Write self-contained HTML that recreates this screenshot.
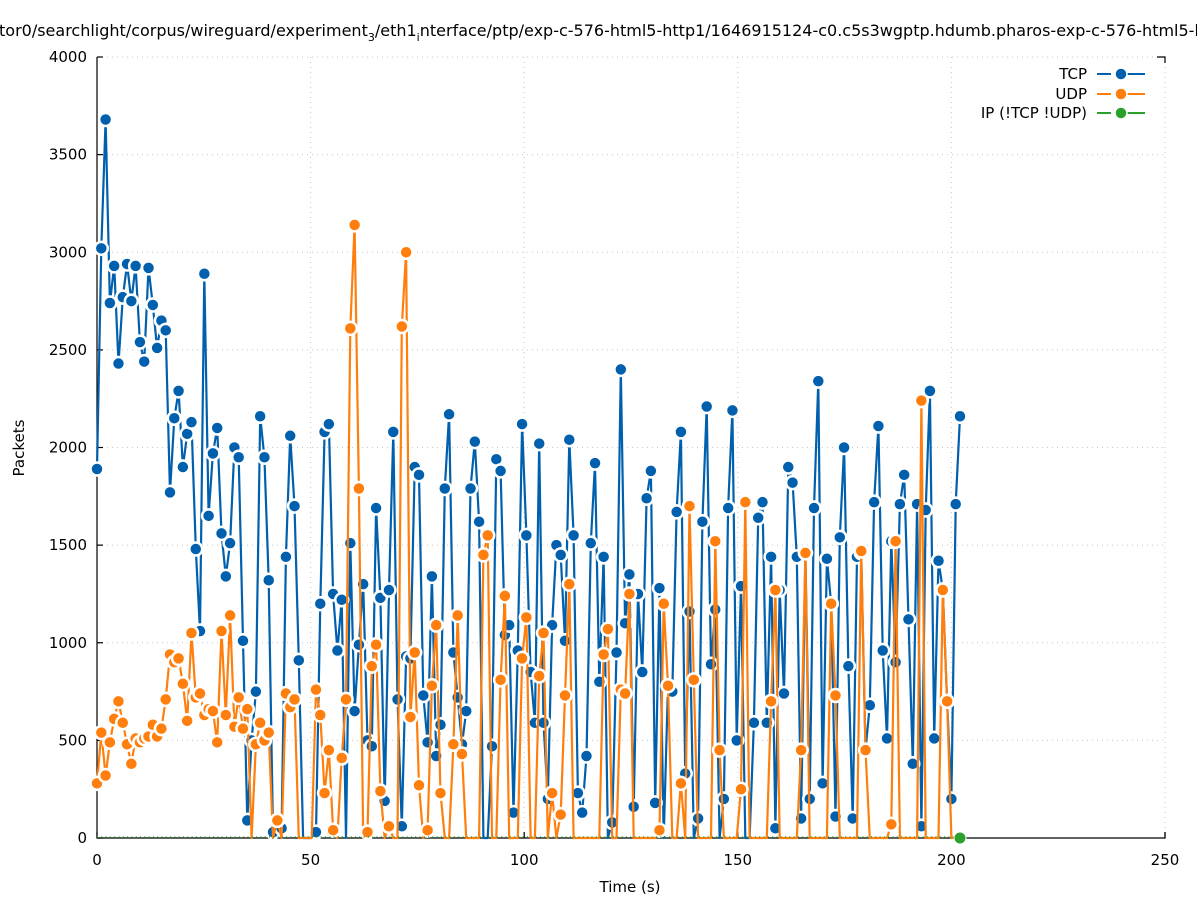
<!DOCTYPE html>
<html><head><meta charset="utf-8"><style>
body{margin:0;background:#fff;width:1197px;height:900px;overflow:hidden;font-family:"Liberation Sans","DejaVu Sans",sans-serif}
svg{display:block}
</style></head><body>
<svg id="s" width="1197" height="900" xmlns="http://www.w3.org/2000/svg" font-family="DejaVu Sans, Liberation Sans, sans-serif" font-size="15">
<rect width="1197" height="900" fill="#fff"/>
<g id="grid" stroke="#c8c8c8" stroke-dasharray="1,4" stroke-width="1"></g>
<text x="-1" y="36" text-anchor="start" font-size="16">tor0/searchlight/corpus/wireguard/experiment<tspan font-size="11" dy="5">3</tspan><tspan dy="-5">/eth1</tspan><tspan font-size="11" dy="5">i</tspan><tspan dy="-5">nterface/ptp/exp-c-576-html5-http1/1646915124-c0.c5s3wgptp.hdumb.pharos-exp-c-576-html5-http1</tspan></text>
<g id="axes" stroke="#000" stroke-width="1.2" fill="none"></g>
<g id="lbl" fill="#000"></g>
<text x="630" y="892" text-anchor="middle">Time (s)</text>
<text transform="translate(24,448) rotate(-90)" text-anchor="middle">Packets</text>
<g id="plot"></g>
<g id="leg"></g>
</svg>
<script>
var NS="http://www.w3.org/2000/svg";
function el(p,t,a,txt){var e=document.createElementNS(NS,t);for(var k in a)e.setAttribute(k,a[k]);if(txt!=null)e.textContent=txt;document.getElementById(p).appendChild(e);return e;}
var X0=97,X1=1165,Y0=838,Y1=57;
function xs(t){return X0+(X1-X0)*t/250}
function ys(v){return Y0-(Y0-Y1)*v/4000}
for(var v=0;v<=4000;v+=500){var y=ys(v);
 if(v>0)el("grid","line",{x1:X0,x2:X1,y1:y,y2:y});
 el("axes","line",{x1:X0,x2:X0+6,y1:y,y2:y});
 el("lbl","text",{x:87,y:y+5,"text-anchor":"end"},v);}
for(var t=0;t<=250;t+=50){var x=xs(t);
 if(t>0)el("grid","line",{x1:x,x2:x,y1:Y0,y2:Y1});
 el("axes","line",{x1:x,x2:x,y1:Y0,y2:Y0-6});
 el("lbl","text",{x:x,y:865,"text-anchor":"middle"},t);}
el("axes","path",{d:"M"+X0+" "+Y1+"V"+Y0+"H"+X1+"V"+(Y0-6)});
el("axes","path",{d:"M"+(X1-8)+" "+Y1+"H"+X1+"V"+(Y1+6)});
var tcp=[1890,3020,3680,2740,2930,2430,2770,2940,2750,2930,2540,2440,2920,2730,2510,2650,2600,1770,2150,2290,1900,2070,2130,1480,1060,2890,1650,1970,2100,1560,1340,1510,2000,1950,1010,90,500,750,2160,1950,1320,30,0,50,1440,2060,1700,910,0,0,0,30,1200,2080,2120,1250,960,1220,0,1510,650,990,1300,500,470,1690,1230,190,1270,2080,710,60,930,920,1900,1860,730,490,1340,420,580,1790,2170,950,720,480,650,1790,2030,1620,0,0,470,1940,1880,1040,1090,130,960,2120,1550,850,590,2020,590,200,1090,1500,1450,1010,2040,1550,230,130,420,1510,1920,800,1440,0,80,950,2400,1100,1350,160,1250,850,1740,1880,180,1280,0,780,750,1670,2080,330,1160,0,100,1620,2210,890,1170,0,200,1690,2190,500,1290,0,0,590,1640,1720,590,1440,50,1270,740,1900,1820,1440,100,1460,200,1690,2340,280,1430,1200,110,1540,2000,880,100,1440,1460,450,680,1720,2110,960,510,1520,900,1710,1860,1120,380,1710,60,1680,2290,510,1420,1270,700,200,1710,2160];
var udp=[280,540,320,490,610,700,590,480,380,510,490,510,520,580,520,560,710,940,900,920,790,600,1050,720,740,630,660,650,490,1060,630,1140,570,720,560,660,0,480,590,500,540,0,90,0,740,670,710,0,0,0,0,760,630,230,450,40,0,410,710,2610,3140,1790,0,30,880,990,240,0,60,0,0,2620,3000,620,950,270,0,40,780,1090,230,0,0,480,1140,430,0,0,0,0,1450,1550,0,0,810,1240,0,0,0,920,1130,0,0,830,1050,0,230,0,120,730,1300,0,0,0,0,0,0,0,940,1070,0,0,760,740,1250,0,0,0,0,0,0,40,1200,780,0,0,280,0,1700,810,0,0,0,0,1520,450,0,0,0,0,250,1720,0,0,0,0,0,700,1270,0,0,0,0,0,450,1460,0,0,0,0,0,1200,730,0,0,0,0,0,1470,450,0,0,0,0,0,70,1520,0,0,0,0,0,2240,0,0,0,0,1270,700,0,0,0];
var N=tcp.length;var step=(960-97)/(N-1);
function px(i){return 97+i*step}
function series(d,c){var p="";for(var i=0;i<d.length;i++)p+=(i?"L":"M")+px(i).toFixed(1)+" "+ys(d[i]).toFixed(1);
 el("plot","path",{d:p,fill:"none",stroke:c,"stroke-width":2.2,"stroke-linejoin":"round"});
 for(var i=0;i<d.length;i++)if(d[i]>0)el("plot","circle",{cx:px(i),cy:ys(d[i]),r:6.5,fill:c,stroke:"#fff","stroke-width":2.5});}
series(tcp,"#0060ad");series(udp,"#ff7f0e");
el("plot","line",{x1:97,x2:960,y1:837,y2:837,stroke:"#2ca02c","stroke-width":1.5,"stroke-dasharray":"1,3.3"});
el("plot","circle",{cx:960,cy:838,r:6,fill:"#2ca02c",stroke:"#fff","stroke-width":1});
var L=[["TCP","#0060ad",74],["UDP","#ff7f0e",94],["IP (!TCP  !UDP)","#2ca02c",113]];
L.forEach(function(l){el("leg","text",{x:1087,y:l[2]+5,"text-anchor":"end","xml:space":"preserve"},l[0]);
 el("leg","line",{x1:1097,x2:1145,y1:l[2],y2:l[2],stroke:l[1],"stroke-width":2,"stroke-dasharray":"14,6,40"});
 el("leg","circle",{cx:1121,cy:l[2],r:6,fill:l[1],stroke:"#fff","stroke-width":1.5});});
</script>
</body></html>
